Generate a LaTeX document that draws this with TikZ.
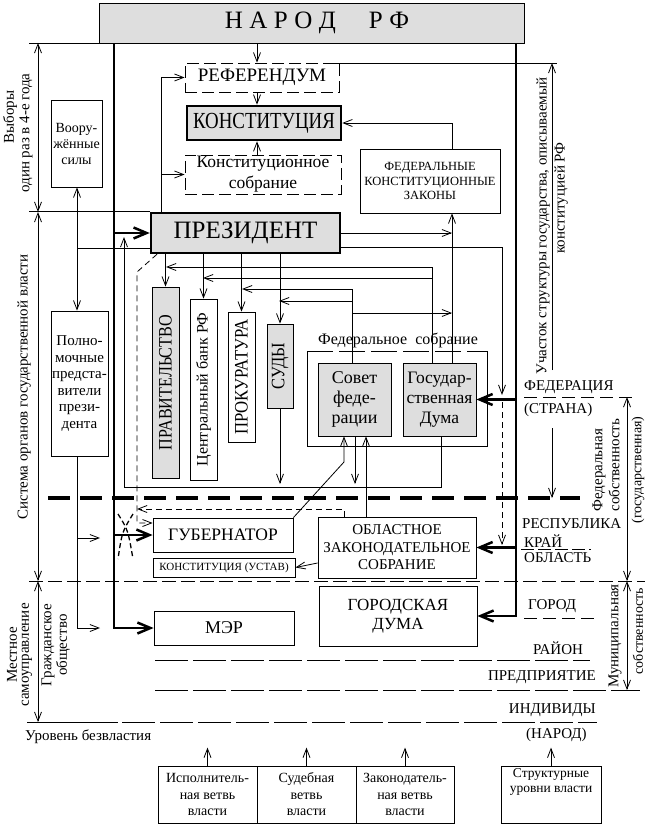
\documentclass[tikz,border=0pt]{standalone}
\usepackage{fontspec}
\setmainfont{Liberation Serif}
\usetikzlibrary{arrows.meta}
\newcommand{\fsz}[2]{\fontsize{#1}{#2}\selectfont}
\begin{document}
\begin{tikzpicture}[x=1pt,y=-1pt,
  ln/.style={line width=0.8pt},
  ar/.style={ln,-{Straight Barb[length=9pt,width=7pt]}},
  arb/.style={ln,{Straight Barb[length=9pt,width=7pt]}-{Straight Barb[length=9pt,width=7pt]}},
  dsh/.style={dash pattern=on 6pt off 4pt},
  tar/.style={line width=2.5pt,-{Straight Barb[length=13pt,width=11pt,line width=2.5pt]}},
  box/.style={draw,line width=0.8pt,inner sep=0pt,align=center},
  dbox/.style={box,dash pattern=on 12pt off 5pt},
  fillb/.style={fill=black!13},
  tbox/.style={box,line width=2.5pt,fill=black!13},
  lvl/.style={inner sep=0pt,font=\fsz{15}{17}},
  rot/.style={rotate=90,inner sep=0pt,font=\fsz{15}{17}},
  lvlline/.style={ln,dash pattern=on 13pt off 6pt},
  lgline/.style={ln,dash pattern=on 33pt off 5pt},
]
\useasboundingbox (0,0) rectangle (648,826);

% ---------- boxes ----------
\node[box,fillb,minimum width=425pt,minimum height=40pt,font=\fsz{25}{25}] (narod) at (311.5,23)
  {\hspace{11pt}Н\hspace{6.5pt}А\hspace{6.5pt}Р\hspace{6.5pt}О\hspace{6.5pt}Д\hspace{33pt}Р\hspace{6.5pt}Ф};
\node[dbox,minimum width=154pt,minimum height=29pt,font=\fsz{19}{19}] (ref) at (262,77.5) {РЕФЕРЕНДУМ};
\node[tbox,minimum width=154pt,minimum height=34pt,font=\fsz{23}{23}] (kon) at (264,123) {\scalebox{0.82}[1]{КОНСТИТУЦИЯ}};
\node[dbox,minimum width=156pt,minimum height=39pt,font=\fsz{17.5}{21}] (ksob) at (263,174.5) {Конституционное\\собрание};
\node[box,minimum width=140pt,minimum height=64pt,font=\fsz{12.5}{14.5}] (fkz) at (430,181) {ФЕДЕРАЛЬНЫЕ\\КОНСТИТУЦИОННЫЕ\\ЗАКОНЫ};
\node[tbox,minimum width=189pt,minimum height=40pt,font=\fsz{25}{25}] (pres) at (245.5,233) {ПРЕЗИДЕНТ};
\node[box,minimum width=51pt,minimum height=87pt,font=\fsz{14}{16}] (vs) at (76.5,143.5) {Воору-\\жённые\\силы};
\node[box,minimum width=57pt,minimum height=145pt,font=\fsz{15}{16.5}] (pp) at (79.5,383.5) {Полно-\\мочные\\предста-\\вители\\прези-\\дента};

\node[box,fillb,minimum width=27pt,minimum height=191pt,font=\fsz{19}{19}] (prav) at (165.5,382.5) {\rotatebox{90}{\scalebox{0.85}[1]{ПРАВИТЕЛЬСТВО}}};
\node[box,minimum width=27pt,minimum height=181pt,font=\fsz{16}{16}] (cb) at (203.5,389.5) {\rotatebox{90}{Центральный банк РФ}};
\node[box,minimum width=27pt,minimum height=130pt,font=\fsz{19}{19}] (prok) at (241.5,377) {\rotatebox{90}{\scalebox{0.88}[1]{ПРОКУРАТУРА}}};
\node[box,fillb,minimum width=26pt,minimum height=84pt,font=\fsz{19}{19}] (sud) at (280,366) {\rotatebox{90}{\scalebox{0.87}[1]{СУДЫ}}};

\node[inner sep=0pt,font=\fsz{16}{16}] (fslab) at (398,340) {Федеральное\ \ собрание};
\draw[ln,dash pattern=on 26pt off 6pt] (307,351) -- (487,351);
\draw[ln] (307,351) -- (307,446) -- (487,446) -- (487,351);
\node[box,fillb,minimum width=73pt,minimum height=73pt,font=\fsz{18}{20}] (sovet) at (354.5,399.5) {Совет\\феде-\\рации};
\node[box,fillb,minimum width=73pt,minimum height=73pt,font=\fsz{17.5}{20}] (duma) at (439.5,399.5) {Государ-\\ственная\\Дума};

\node[box,minimum width=140pt,minimum height=34pt,font=\fsz{17.5}{17.5}] (gub) at (223,535) {ГУБЕРНАТОР};
\node[box,minimum width=142pt,minimum height=19pt,font=\fsz{11}{11}] (ust) at (224,567.5) {КОНСТИТУЦИЯ (УСТАВ)};
\node[box,minimum width=158pt,minimum height=61pt,font=\fsz{15}{17.5}] (obl) at (397,547.5) {ОБЛАСТНОЕ\\ЗАКОНОДАТЕЛЬНОЕ\\СОБРАНИЕ};
\node[box,minimum width=140pt,minimum height=34pt,font=\fsz{18}{18}] (mer) at (224,628) {МЭР};
\node[box,minimum width=158pt,minimum height=60pt,font=\fsz{17}{19}] (gd) at (398,616) {ГОРОДСКАЯ\\ДУМА};

% legend
\node[box,minimum width=99pt,minimum height=57pt,font=\fsz{14}{16.5}] (l1) at (207.5,794.5) {Исполнитель-\\ная ветвь\\власти};
\node[box,minimum width=99pt,minimum height=57pt,font=\fsz{14}{16.5}] (l2) at (306.5,794.5) {Судебная\\ветвь\\власти};
\node[box,minimum width=98pt,minimum height=57pt,font=\fsz{14}{16.5}] (l3) at (405,794.5) {Законодатель-\\ная ветвь\\власти};
\node[box,minimum width=100pt,minimum height=57pt,
  label={[anchor=north,align=center,font=\fsz{13.5}{15},inner sep=3pt]north:{Структурные\\уровни власти}}] (sur) at (551,794.5) {};
\draw[ar] (l1.north) -- ++(0,-18);
\draw[ar] (l2.north) -- ++(0,-18);
\draw[ar] (l3.north) -- ++(0,-18);
\draw[ar] (sur.north) -- ++(0,-18);

% ---------- level lines ----------
\draw[ln] (29,0 |- narod.south west) -- (narod.south west);
\draw[ln] (330,63) -- (557,63);
\draw[ln] (29,0 |- pres.north west) -- (pres.north west);
\draw[ln,dash pattern=on 14pt off 5pt] (29,581) -- (645,581);
\draw[lgline] (155,660) -- (590,660);
\draw[lgline] (155,690) -- (640,690);
\draw[ln] (27,722) -- (118,722);
\draw[lgline] (122,722) -- (597,722);
\draw[lvlline] (524,397) -- (634,397);
\draw[ln,dash pattern=on 13pt off 4pt] (521,549) -- (591,549);
\draw[lvlline] (524,618) -- (594,618);
\draw[line width=4pt,dash pattern=on 22pt off 10pt] (48,498) -- (580,498);

% ---------- side arrows ----------
\draw[arb] (38,43) -- (38,212);
\draw[arb] (38,212) -- (38,581);
\draw[arb] (38,581) -- (38,722);
\draw[ar] (552,370) -- (552,63);
\draw[ar] (552,428) -- (552,498);
\draw[arb] (627,397) -- (627,581);
\draw[arb] (627,581) -- (627,690);

% ---------- connectors ----------
\draw[ar] (257,0 |- narod.south) -- (257,0 |- ref.north);
\draw[ar] (257,0 |- ref.south) -- (257,0 |- kon.north);
\draw[ar] (257,0 |- ksob.north) -- (257,0 |- kon.south);
\draw[ar] (161,0 |- pres.north) -- (161,0 |- ref.west) -- (ref.west);
\draw[ar] (161,0 |- ksob.west) -- (ksob.west);
\draw[ar] (452,0 |- fkz.north) |- (kon.east);
\draw[ar] (452,0 |- duma.north) -- (452,0 |- fkz.south);
\draw[ar] (pres.east) -- (452,0 |- pres.east);
\draw[ar] (352,313) -- (452,313);
\draw[ln] (352,0 |- sovet.north) -- (352,289);
\draw[ar] (352,289) -- (242,289);
\draw[ar] (352,301) -- (279,301);
\draw[ln] (432,0 |- duma.north) -- (432,267);
\draw[ar] (432,267) -- (166,267);
\draw[ar] (432,278) -- (203,278);
\draw[ar] (prav.north |- pres.south) -- (prav.north);
\draw[ar] (cb.north |- pres.south) -- (cb.north);
\draw[ar] (prok.north |- pres.south) -- (prok.north);
\draw[ar] (sud.north |- pres.south) -- (sud.north);
\draw[ar] (pres.east |- 0,247) -| (502,395);
\draw[ar,dsh] (502,402) -- (502,545);

\draw[tar] (114,0 |- narod.south) |- (mer.west);
\draw[tar] (114,0 |- pres.west) -- (pres.west);
\draw[tar] (114,0 |- gub.west) -- (gub.west);
\draw[tar] (516,0 |- narod.south) |- (gd.east);
\draw[tar] (516,0 |- duma.east) -- (duma.east);
\draw[tar] (516,0 |- obl.east) -- (obl.east);

\draw[ln] (pres.west |- 0,248) -- (77,248);
\draw[ar] (77,248) -- (77,0 |- vs.south);
\draw[ar] (77,248) -- (77,0 |- pp.north);
\draw[ln] (77,0 |- pp.south) -- (77,628);
\draw[ar] (77,538) -- (100,538);
\draw[ar] (77,628) -- (100,628);

\draw[ar] (441,0 |- duma.south) -- (441,487) -- (124,487) -- (124,237);
\draw[ar] (sud.south) -- (sud.south |- 0,484);
\draw[ar] (355,0 |- sovet.south) -- (355,484);
\draw[ar] (366,0 |- obl.north) -- (366,0 |- sovet.south);
\draw[ar] (gub.north east) -- (344,462) -- (344,0 |- sovet.south);
\draw[ar,dsh] (157,0 |- pres.south) -- (137,272) -- (137,523) -- (gub.west |- 0,523);
\draw[ar,dsh] (344,0 |- obl.north) -- (344,509) -- (137,509);
\draw[ar] (obl.west |- 0,563) -- (ust.east);
\draw[line width=1.3pt,dash pattern=on 5pt off 3pt] (118,514) .. controls (128,530) .. (133,559);
\draw[line width=1.3pt,dash pattern=on 5pt off 3pt] (133,514) .. controls (122,532) .. (118,559);

% ---------- side texts ----------
\node[rot] (t1) at (10,117) {Выборы};
\node[rot] (t2) at (26,133) {один раз в 4-е года};
\node[rot] (t3) at (24,387) {Система органов государственной власти};
\node[rot] (t4) at (12,655) {Местное};
\node[rot] (t5) at (27,655) {самоуправление};
\node[rot] (t6) at (48,645) {Гражданское};
\node[rot] (t7) at (63,645) {общество};
\node[lvl,anchor=west] (t8) at (25,737) {Уровень безвластия};
\node[rot] (t9) at (543,313) {Участок структуры};
\node[rot] (t10) at (543,163) {государства, описываемый};
\node[rot] (t11) at (561,198) {конституцией РФ};
\node[rot] (t12) at (599,470) {Федеральная};
\node[rot] (t13) at (614,465) {собственность};
\node[rot,font=\fsz{14}{16}] (t14) at (638,470) {(государственная)};
\node[rot] (t15) at (615,636) {Муниципальная};
\node[rot,font=\fsz{14}{16}] (t16) at (638,631) {собственность};

\node[lvl,anchor=west] (v1) at (524,387) {ФЕДЕРАЦИЯ};
\node[lvl,anchor=west] (v2) at (524,410) {(СТРАНА)};
\node[lvl,anchor=west] (v3) at (522,524) {РЕСПУБЛИКА};
\node[lvl,anchor=west] (v4) at (524,541) {КРАЙ};
\node[lvl,anchor=west] (v5) at (524,558) {ОБЛАСТЬ};
\node[lvl,anchor=west] (v6) at (528,606) {ГОРОД};
\node[lvl,anchor=west] (v7) at (533,648) {РАЙОН};
\node[lvl,anchor=east] (v8) at (596,677) {ПРЕДПРИЯТИЕ};
\node[lvl,anchor=east] (v9) at (596,710) {ИНДИВИДЫ};
\node[lvl,anchor=west] (v10) at (526,735) {(НАРОД)};
\end{tikzpicture}
\end{document}
